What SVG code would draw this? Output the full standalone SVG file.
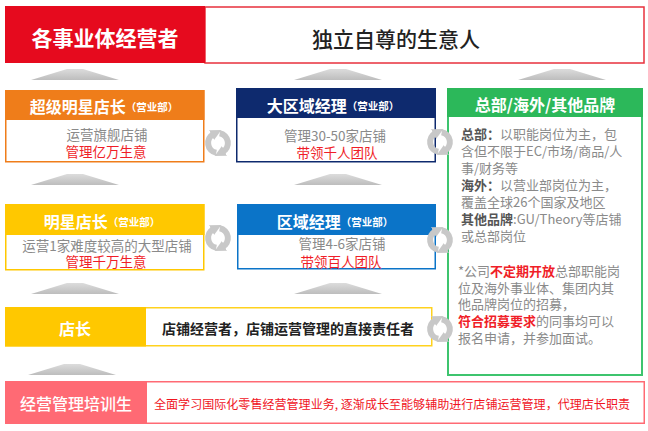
<svg xmlns="http://www.w3.org/2000/svg" width="648" height="431" viewBox="0 0 648 431">
<style>
text{font-family:"Noto Sans CJK SC","Noto Sans",sans-serif;}
.hd{fill:#fff;font-weight:bold;font-size:16px;}
.sm{font-size:10.5px;}
.g{fill:#8a8a8a;font-size:13.5px;}
.r{fill:#f01e28;font-size:13.5px;}
.gb{fill:#8a8a8a;font-size:13px;}
.lb{fill:#555;font-weight:bold;}
.rb{fill:#f01e28;font-weight:bold;}
.cyc{fill:none;stroke:#c8c8c8;stroke-width:6;marker-end:url(#ah);}
</style>
<defs>
<linearGradient id="tg" x1="0" y1="0" x2="0" y2="1">
<stop offset="0" stop-color="#dcdcdc"/>
<stop offset="1" stop-color="#bdbdbd"/>
</linearGradient>
<marker id="ah" viewBox="0 0 10 10" refX="2" refY="5" markerWidth="11" markerHeight="11" markerUnits="userSpaceOnUse" orient="auto">
<path d="M0,0 L10,5 L0,10 z" fill="#c8c8c8"/>
</marker>
<g id="cy">
<path class="cyc" d="M-1.7,9.8 A10,10 0 0 1 -4.5,-8.9"/>
<path class="cyc" d="M1.7,-9.8 A10,10 0 0 1 4.5,8.9"/>
</g>
<polygon id="tp" points="-44,11 -8,0 8,0 44,11" fill="url(#tg)"/>
</defs>
<rect width="648" height="431" fill="#fff"/>

<g id="top">
<rect x="205" y="7" width="439" height="56" fill="#fff" stroke="#e8303c" stroke-width="1.5"/>
<rect x="5" y="6" width="200" height="57" fill="#e60a1e"/>
<text x="105" y="37" text-anchor="middle" dominant-baseline="central" fill="#fff" font-weight="bold" font-size="21">各事业体经营者</text>
<text x="396" y="38" text-anchor="middle" dominant-baseline="central" fill="#222" font-weight="500" font-size="21">独立自尊的生意人</text>
</g>

<g id="super-star">
<rect x="5.75" y="90.75" width="198" height="71" fill="#fff" stroke="#ef7d1a" stroke-width="1.5"/>
<rect x="5" y="90" width="199.5" height="30" fill="#ef7d1a"/>
<text x="104" y="106" text-anchor="middle" dominant-baseline="central" class="hd">超级明星店长<tspan class="sm">（营业部）</tspan></text>
<text x="107" y="134" text-anchor="middle" dominant-baseline="central" class="g">运营旗舰店铺</text>
<text x="106" y="151" text-anchor="middle" dominant-baseline="central" class="r">管理亿万生意</text>
</g>

<g id="big-area">
<rect x="236.75" y="88.75" width="198.5" height="73" fill="#fff" stroke="#0e2a6e" stroke-width="1.5"/>
<rect x="236" y="88" width="200" height="30" fill="#0e2a6e"/>
<text x="333" y="105" text-anchor="middle" dominant-baseline="central" class="hd">大区域经理<tspan class="sm">（营业部）</tspan></text>
<text x="335" y="135" text-anchor="middle" dominant-baseline="central" class="g">管理30-50家店铺</text>
<text x="337" y="152" text-anchor="middle" dominant-baseline="central" class="r">带领千人团队</text>
</g>

<g id="hq">
<rect x="448" y="89" width="194" height="286" fill="#fff" stroke="#3dc46e" stroke-width="2"/>
<rect x="447" y="88" width="196" height="29" fill="#2cb85a"/>
<text x="545" y="104" text-anchor="middle" dominant-baseline="central" class="hd">总部/海外/其他品牌</text>
<text class="gb" dominant-baseline="central">
<tspan x="461" y="133"><tspan class="lb">总部：</tspan>以职能岗位为主，包</tspan>
<tspan x="461" y="150">含但不限于EC/市场/商品/人</tspan>
<tspan x="461" y="167">事/财务等</tspan>
<tspan x="461" y="184"><tspan class="lb">海外：</tspan>以营业部岗位为主，</tspan>
<tspan x="461" y="201">覆盖全球26个国家及地区</tspan>
<tspan x="461" y="218"><tspan class="lb">其他品牌</tspan>:GU/Theory等店铺</tspan>
<tspan x="461" y="235">或总部岗位</tspan>
</text>
<text class="gb" dominant-baseline="central">
<tspan x="458" y="270">*公司<tspan class="rb">不定期开放</tspan>总部职能岗</tspan>
<tspan x="458" y="287">位及海外事业体、集团内其</tspan>
<tspan x="458" y="303">他品牌岗位的招募，</tspan>
<tspan x="458" y="320"><tspan class="rb">符合招募要求</tspan>的同事均可以</tspan>
<tspan x="458" y="337">报名申请，并参加面试。</tspan>
</text>
</g>

<g id="star">
<rect x="5.75" y="204.75" width="198" height="65" fill="#fff" stroke="#ffc800" stroke-width="1.5"/>
<rect x="5" y="204" width="199.5" height="31" fill="#ffc800"/>
<text x="102" y="221" text-anchor="middle" dominant-baseline="central" class="hd">明星店长<tspan class="sm">（营业部）</tspan></text>
<text x="107" y="245" text-anchor="middle" dominant-baseline="central" class="g">运营1家难度较高的大型店铺</text>
<text x="106" y="261" text-anchor="middle" dominant-baseline="central" class="r">管理千万生意</text>
</g>

<g id="area">
<rect x="237.75" y="204.75" width="197.5" height="64" fill="#fff" stroke="#0b74c8" stroke-width="1.5"/>
<rect x="237" y="204" width="199" height="31" fill="#0b74c8"/>
<text x="335" y="221" text-anchor="middle" dominant-baseline="central" class="hd">区域经理<tspan class="sm">（营业部）</tspan></text>
<text x="342" y="243" text-anchor="middle" dominant-baseline="central" class="g">管理4-6家店铺</text>
<text x="341" y="261" text-anchor="middle" dominant-baseline="central" class="r">带领百人团队</text>
</g>

<g id="manager">
<rect x="5.75" y="307.75" width="426" height="38" fill="#fff" stroke="#ffd21e" stroke-width="1.5"/>
<rect x="5" y="307" width="141" height="39.5" fill="#ffc800"/>
<text x="75" y="328" text-anchor="middle" dominant-baseline="central" class="hd">店长</text>
<text x="288" y="328" text-anchor="middle" dominant-baseline="central" fill="#222" font-weight="bold" font-size="14">店铺经营者，店铺运营管理的直接责任者</text>
</g>

<g id="trainee">
<rect x="5.75" y="381.75" width="638.5" height="41.5" fill="#fff" stroke="#ff6a74" stroke-width="1.5"/>
<rect x="5" y="381" width="142" height="43" fill="#ff6a74"/>
<text x="76" y="403" text-anchor="middle" dominant-baseline="central" fill="#fff" font-size="16" font-weight="500">经营管理培训生</text>
<text x="154" y="403" dominant-baseline="central" fill="#f0141e" font-size="12" textLength="476" lengthAdjust="spacingAndGlyphs">全面学习国际化零售经营管理业务, 逐渐成长至能够辅助进行店铺运营管理，代理店长职责</text>
</g>

<g id="connectors">
<use href="#tp" x="75" y="69"/>
<use href="#tp" x="338" y="69"/>
<use href="#tp" x="562" y="69"/>
<use href="#tp" x="75" y="174"/>
<use href="#tp" x="338" y="174"/>
<use href="#tp" x="75" y="283"/>
<use href="#tp" x="338" y="283"/>
<use href="#tp" x="72" y="364"/>
<use href="#cy" x="218" y="143"/>
<use href="#cy" x="218" y="238"/>
<use href="#cy" x="440" y="142"/>
<use href="#cy" x="440" y="240"/>
<use href="#cy" x="440" y="329"/>
</g>
</svg>
